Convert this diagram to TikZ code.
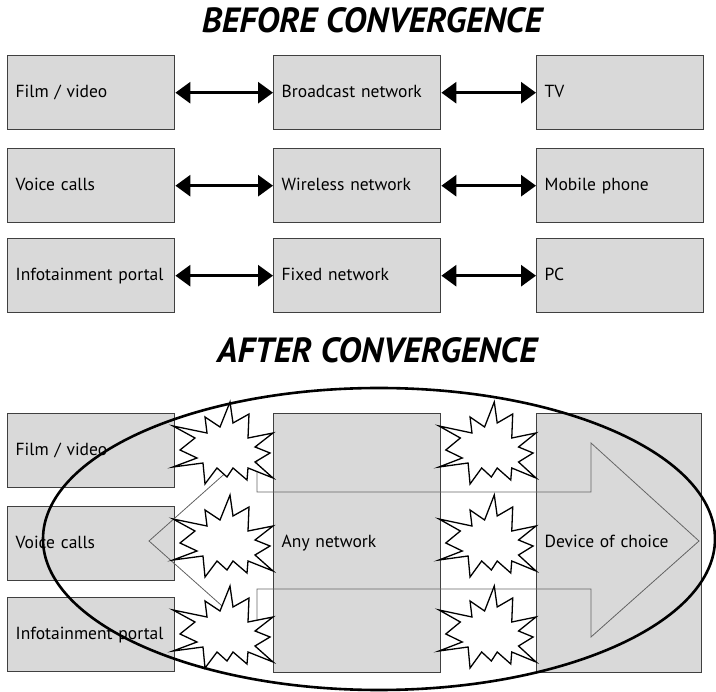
\documentclass[tikz,border=0pt]{standalone}
\usepackage{fontspec}
\setmainfont{PT Sans}
\usetikzlibrary{arrows.meta}

\tikzset{
  box/.style={draw=black!75, line width=1.4pt, fill=black!15, anchor=north west,
    minimum height=74pt, text width=151pt, inner xsep=8pt, align=left,
    text height=13pt, text depth=4pt,
    font=\fontsize{17.5}{20}\selectfont},
  tallbox/.style={box, minimum height=259pt},
  dblarrow/.style={line width=3pt, {Triangle[length=15pt,width=21pt]}-{Triangle[length=15pt,width=21pt]}},
  heading/.style={font=\fontsize{35}{40}\selectfont\bfseries\itshape},
  burst/.style={draw=black, line width=1.3pt, fill=white, line join=miter},
  bigarrow/.style={draw=black!60, line width=0.8pt},
  hull/.style={draw=black, line width=2.6pt}
}

% explosion outline, 100 wide, centred vertically on the origin
\newcommand\explosion[3]{%
  \draw[burst, shift={(#1,#2)}, xscale=#3]
    (0,-24) -- (22,-12) -- (7,0) -- (24,8) -- (0,17) -- (30,13) -- (32,34)
    -- (44,18) -- (54,27) -- (60,18) -- (74,30) -- (75,18) -- (100,28)
    -- (82,12) -- (97,3) -- (82,-3) -- (100,-17) -- (75,-12) -- (76,-36)
    -- (60,-27) -- (57,-48) -- (47,-23) -- (32,-33) -- (34,-17) -- cycle;}

\begin{document}
\begin{tikzpicture}[x=1pt, y=-1pt]
\useasboundingbox (0,0) rectangle (716,692);

% ---- before convergence ----
\node[heading] (t1) at (372,20) {BEFORE CONVERGENCE};

\node[box] (film1)  at (7,55)    {Film / video};
\node[box] (bcast)  at (273,55)  {Broadcast network};
\node[box] (tv)     at (536,55)  {TV};
\node[box] (voice1) at (7,148)   {Voice calls};
\node[box] (wless)  at (273,148) {Wireless network};
\node[box] (mobile) at (536,148) {Mobile phone};
\node[box] (info1)  at (7,238)   {Infotainment portal};
\node[box] (fixed)  at (273,238) {Fixed network};
\node[box] (pc)     at (536,238) {PC};

\draw[dblarrow] (film1.east)  -- (bcast.west);
\draw[dblarrow] (bcast.east)  -- (tv.west);
\draw[dblarrow] (voice1.east) -- (wless.west);
\draw[dblarrow] (wless.east)  -- (mobile.west);
\draw[dblarrow] (info1.east)  -- (fixed.west);
\draw[dblarrow] (fixed.east)  -- (pc.west);

% ---- after convergence ----
\node[heading] (t2) at (377,350) {AFTER CONVERGENCE};

\node[box] (film2)  at (7,413) {Film / video};
\node[box] (voice2) at (7,506) {Voice calls};
\node[box] (info2)  at (7,597) {Infotainment portal};
\node[tallbox] (anynet) at (273,413) {Any network};
\node[tallbox, text width=149pt] (device) at (536,413) {Device of choice};

% two-headed outline arrow across the middle
\draw[bigarrow] (149,541) -- (257,445) -- (257,492) -- (591,492) -- (591,443)
  -- (699,541) -- (591,637) -- (591,589) -- (257,589) -- (257,637) -- cycle;

\explosion{173}{450}{1}
\explosion{173}{543}{1}
\explosion{173}{634}{1}
\explosion{439}{450}{0.97}
\explosion{439}{543}{0.97}
\explosion{439}{634}{0.97}

\draw[hull] (379,539) ellipse [x radius=336, y radius=151];
\end{tikzpicture}
\end{document}
